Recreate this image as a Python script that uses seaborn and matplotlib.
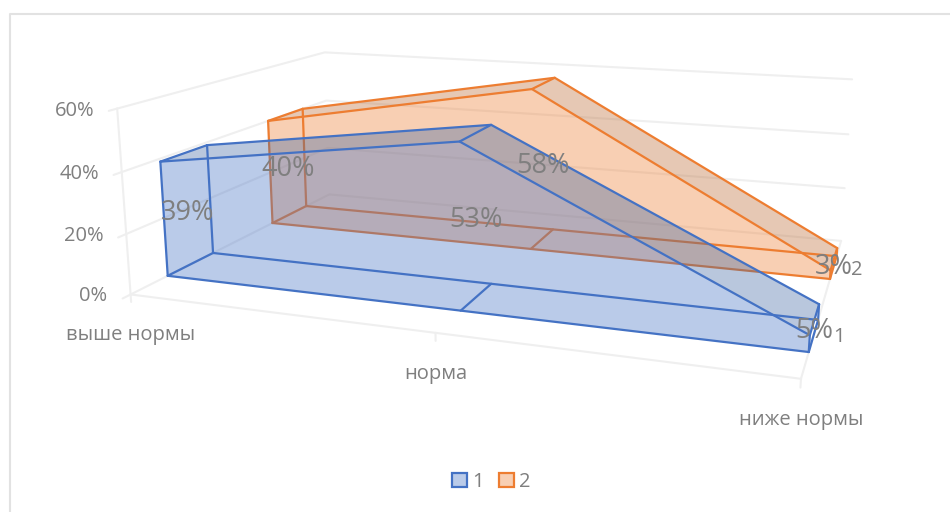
import numpy as np
import seaborn as sns
import matplotlib.pyplot as plt
from matplotlib.patches import Patch
from mpl_toolkits.mplot3d import proj3d
from mpl_toolkits.mplot3d.art3d import Poly3DCollection

sns.set_theme(style="white")
plt.rcParams['font.family'] = ['Open Sans', 'DejaVu Sans']

# данные
categories = ["выше нормы", "норма", "ниже нормы"]
series_names = ["1", "2"]
values_1 = [39, 53, 5]
values_2 = [40, 58, 3]
z_ticks = [0, 20, 40, 60]

# цвета
blue, orange = sns.color_palette(["#4472C4", "#ED7D31"])
blue_top = "#3E64A2"
orange_top = "#BB6930"
text_grey = "#7f7f7f"
grid_grey = "#efefef"

fig = plt.figure(figsize=(9.5, 5.12), dpi=100)
ax = fig.add_axes([(475 - 500 + 23.5) / 950, (256 - 500 + 61.74) / 512, 1000 / 950, 1000 / 512], projection='3d')
ax.computed_zorder = False
ax.set_proj_type('persp', focal_length=0.2291)
ax.view_init(elev=13.52, azim=-71.28, roll=-0.2)
ax.set_box_aspect((1, 0.6604, 0.2868), zoom=0.7414)
ax.set_axis_off()
ax.set_xlim(0, 2)
ax.set_ylim(0, 1)
ax.set_zlim(0, 60)

x = np.arange(len(categories), dtype=float)
depth_1 = (0.148, 0.349)
depth_2 = (0.654, 0.852)

# сетка на стенках и полу
grid_kw = dict(color=grid_grey, lw=1.5, zorder=1, clip_on=False)
for t in z_ticks:
    ax.plot([0, 0, 2], [0, 1, 1], [t, t, t], **grid_kw)
    ax.plot([0, 0], [-0.03, 0], [t, t], **grid_kw)
ax.plot([0, 2, 2], [0, 0, 1], [0, 0, 0], **grid_kw)
ax.plot([0, 0], [0, 0], [0, 60], **grid_kw)
for xi in x:
    ax.plot([xi, xi], [0, 0], [0, -2.5], **grid_kw)


def draw_area(vals, depth, color, top_color, z):
    y0, y1 = depth
    n = len(vals)
    front = [(x[i], y0, vals[i]) for i in range(n)] + [(x[-1], y0, 0), (x[0], y0, 0)]
    tops = [[(x[i], y0, vals[i]), (x[i + 1], y0, vals[i + 1]), (x[i + 1], y1, vals[i + 1]), (x[i], y1, vals[i])]
            for i in range(n - 1)]
    ax.add_collection3d(Poly3DCollection([front], facecolors=[(*color, 0.37)], edgecolors='none', zorder=z))
    top_rgb = sns.color_palette([top_color])[0]
    ax.add_collection3d(Poly3DCollection(tops, facecolors=[(*top_rgb, 0.36)], edgecolors='none', zorder=z))

    line_kw = dict(color=color, lw=1.6, zorder=z + 0.5, clip_on=False, solid_joinstyle='round')
    for y in depth:
        ax.plot(x, [y] * n, vals, **line_kw)
        ax.plot([x[0], x[-1]], [y, y], [0, 0], **line_kw)
        ax.plot([x[0], x[0]], [y, y], [0, vals[0]], **line_kw)
        ax.plot([x[-1], x[-1]], [y, y], [0, vals[-1]], **line_kw)
    for i in range(n):
        ax.plot([x[i], x[i]], depth, [vals[i], vals[i]], **line_kw)
        ax.plot([x[i], x[i]], depth, [0, 0], **line_kw)


draw_area(values_2, depth_2, orange, orange_top, 2)
draw_area(values_1, depth_1, blue, blue_top, 4)


# подпись в точке 3D со сдвигом в пикселях
def label_at(px, py, pz, s, dx=0, dy=0, size=14.5, ha='center'):
    u, v, _ = proj3d.proj_transform(px, py, pz, ax.get_proj())
    ax.annotate(s, (u, v), xytext=(dx, dy), textcoords='offset pixels', color=text_grey, fontsize=size,
                ha=ha, va='center', annotation_clip=False, zorder=10)


for i in range(len(x)):
    label_at(x[i], np.mean(depth_1), values_1[i] / 2, f"{values_1[i]}%", dy=-4, size=19.5)
    label_at(x[i], np.mean(depth_2), values_2[i] / 2, f"{values_2[i]}%", dy=-4, size=19.5)

for t in z_ticks:
    label_at(0, 0, t, f"{t}%", dx=-23, dy=-2, ha='right')
for i, c in enumerate(categories):
    label_at(x[i], 0, 0, c, dy=-41)
label_at(2, np.mean(depth_1), 0, series_names[0], dx=25, dy=-2)
label_at(2, np.mean(depth_2), 0, series_names[1], dx=23, dy=-3)

# легенда
handles = [Patch(facecolor=(*blue, 0.37), edgecolor=blue, lw=1.6), Patch(facecolor=(*orange, 0.37), edgecolor=orange, lw=1.6)]
fig.legend(handles, series_names, loc='center', bbox_to_anchor=(0.517, 1 - 482 / 512), ncol=2, frameon=False,
           fontsize=14.5, labelcolor=text_grey, handlelength=0.75, handleheight=0.75, columnspacing=0.75, handletextpad=0.25)

# рамка
fig.add_artist(plt.Line2D([10 / 950, 10 / 950, 1], [0, 1 - 14 / 512, 1 - 14 / 512], color="#e2e2e2", lw=1.5))

fig.savefig("out.png", dpi=100)
